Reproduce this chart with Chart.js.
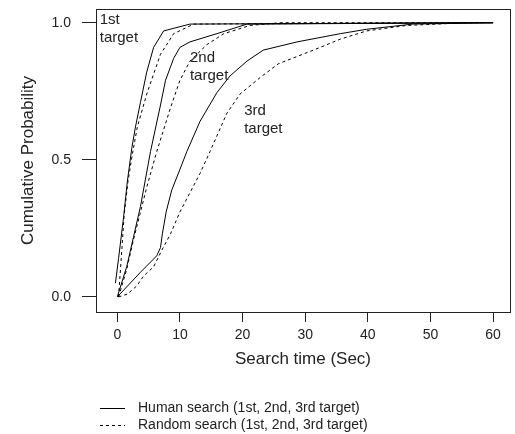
<!DOCTYPE html>
<html>
<head>
<meta charset="utf-8">
<script src="https://cdn.jsdelivr.net/npm/chart.js@4/dist/chart.umd.min.js"></script>
<style>
  html, body { margin: 0; padding: 0; background: #fff; }
  #wrap { width: 515px; height: 434px; }
</style>
</head>
<body>
<div id="wrap"><canvas id="cdf"></canvas></div>
<script>
// ---------------------------------------------------------------------------
// DATA (search time in sec, cumulative probability)
// ---------------------------------------------------------------------------
const human1T  = [-0.3, 0.2, 1.0, 1.6, 2.3, 2.9, 3.7, 4.7, 5.8, 7.4, 11.6, 60];
const human1P  = [0.05, 0.14, 0.29, 0.42, 0.54, 0.62, 0.71, 0.82, 0.91, 0.97, 0.995, 1.0];
const random1T = [0.2, 0.6, 1.1, 1.7, 2.4, 3.2, 4.7, 6.9, 9.0, 12.2, 60];
const random1P = [0.0, 0.13, 0.30, 0.42, 0.52, 0.62, 0.74, 0.885, 0.96, 0.995, 1.0];

const human2T  = [0, 1.5, 2.6, 3.7, 5.3, 6.9, 7.7, 9.0, 10.0, 11.6, 15.9, 20.7, 60];
const human2P  = [0.0, 0.11, 0.22, 0.33, 0.53, 0.70, 0.79, 0.87, 0.91, 0.93, 0.96, 0.995, 1.0];
const random2T = [0.2, 1.5, 2.6, 3.6, 4.7, 6.3, 8.5, 10.0, 11.6, 14.3, 17.0, 21.2, 26.0, 60];
const random2P = [0.0, 0.10, 0.21, 0.30, 0.40, 0.53, 0.69, 0.79, 0.86, 0.92, 0.96, 0.99, 1.0, 1.0];

const human3T  = [0, 3.7, 5.0, 6.3, 6.9, 7.2, 7.8, 8.7, 10.0, 11.1, 13.2, 15.9, 18.0, 20.7, 23.3, 28.7, 35.6, 39.8, 47.2, 60];
const human3P  = [0.0, 0.09, 0.12, 0.15, 0.18, 0.23, 0.31, 0.39, 0.465, 0.53, 0.64, 0.745, 0.806, 0.86, 0.90, 0.93, 0.96, 0.976, 0.995, 1.0];
const random3T = [0.2, 1.6, 3.1, 4.2, 5.8, 7.1, 8.5, 10.0, 11.6, 13.2, 14.8, 17.5, 19.6, 22.8, 25.7, 31.3, 35.6, 39.8, 46.2, 55.8, 60];
const random3P = [0.0, 0.01, 0.04, 0.076, 0.11, 0.17, 0.23, 0.31, 0.38, 0.45, 0.53, 0.67, 0.74, 0.80, 0.85, 0.90, 0.94, 0.97, 0.99, 1.0, 1.0];

const xTicks = [0, 10, 20, 30, 40, 50, 60];
const yTicks = [0.0, 0.5, 1.0];

// curve labels, anchored at (time, probability) of their top-left corner
const curveLabels = [
  { lines: ['1st', 'target'], x: -2.8, y: 1.038 },
  { lines: ['2nd', 'target'], x: 11.6, y: 0.90 },
  { lines: ['3rd', 'target'], x: 20.25, y: 0.706 },
];

const legendItems = [
  { text: 'Human search (1st, 2nd, 3rd target)', dash: [] },
  { text: 'Random search (1st, 2nd, 3rd target)', dash: [3, 3] },
];

// -----------------------------------------------------------------------------
// HELPERS
// -----------------------------------------------------------------------------
const FONT = '"Liberation Sans", Arial, sans-serif';
const INK = '#222';

function pts(t, p) {
  return t.map((x, i) => ({ x, y: p[i] }));
}

function curve(label, t, p, dashed) {
  return {
    label,
    data: pts(t, p),
    showLine: true,
    borderColor: '#000',
    borderWidth: 1,
    borderDash: dashed ? [3, 3] : [],
    pointRadius: 0,
    tension: 0,
    fill: false,
  };
}

// box around plot + curve labels + legend
const decorations = {
  id: 'decorations',
  afterDraw(chart) {
    const { ctx, chartArea: a, scales } = chart;
    ctx.save();
    ctx.strokeStyle = INK;
    ctx.lineWidth = 1;
    ctx.strokeRect(Math.round(a.left) + 0.5, Math.round(a.top) + 0.5,
                   Math.round(a.right - a.left), Math.round(a.bottom - a.top));

    ctx.fillStyle = INK;
    ctx.font = '15px ' + FONT;
    ctx.textBaseline = 'top';
    ctx.textAlign = 'left';
    curveLabels.forEach(l => {
      const px = scales.x.getPixelForValue(l.x);
      const py = scales.y.getPixelForValue(l.y);
      l.lines.forEach((s, i) => ctx.fillText(s, px, py + i * 18));
    });

    // legend (below the axis title)
    ctx.font = '14px ' + FONT;
    ctx.textBaseline = 'middle';
    legendItems.forEach((item, i) => {
      const y = 408 + i * 17;
      ctx.beginPath();
      ctx.setLineDash(item.dash);
      ctx.moveTo(100, y + 0.5);
      ctx.lineTo(125, y + 0.5);
      ctx.strokeStyle = '#000';
      ctx.stroke();
      ctx.setLineDash([]);
      ctx.fillText(item.text, 138, y);
    });
    ctx.restore();
  }
};

// -----------------------------------------------------------------------------
// CHART
// -----------------------------------------------------------------------------
new Chart(document.getElementById('cdf'), {
  type: 'scatter',
  data: {
    datasets: [
      curve('Human 1st', human1T, human1P, false),
      curve('Random 1st', random1T, random1P, true),
      curve('Human 2nd', human2T, human2P, false),
      curve('Random 2nd', random2T, random2P, true),
      curve('Human 3rd', human3T, human3P, false),
      curve('Random 3rd', random3T, random3P, true),
    ]
  },
  options: {
    responsive: true,
    maintainAspectRatio: false,
    animation: false,
    layout: { padding: { left: 0, right: 5, top: 9, bottom: 64 } },
    plugins: { legend: { display: false }, tooltip: { enabled: false } },
    scales: {
      x: {
        type: 'linear',
        min: -3.4,
        max: 62.7,
        afterBuildTicks: s => { s.ticks = xTicks.map(v => ({ value: v })); },
        afterFit: s => { s.height = 58; s.paddingLeft = 0; s.paddingRight = 0; },
        ticks: { color: INK, font: { family: FONT, size: 14 }, padding: 5, maxRotation: 0 },
        grid: { drawOnChartArea: false, drawTicks: true, tickLength: 10, color: INK },
        border: { color: INK },
        title: {
          display: true, text: 'Search time (Sec)', color: INK,
          font: { family: FONT, size: 17 }, padding: { top: 2, bottom: 0 }
        }
      },
      y: {
        type: 'linear',
        min: -0.055,
        max: 1.05,
        afterBuildTicks: s => { s.ticks = yTicks.map(v => ({ value: v })); },
        afterFit: s => { s.width = 96; s.paddingTop = 0; s.paddingBottom = 0; },
        ticks: {
          color: INK, font: { family: FONT, size: 14 }, padding: 11,
          callback: v => v.toFixed(1)
        },
        grid: { drawOnChartArea: false, drawTicks: true, tickLength: 14, color: INK },
        border: { color: INK },
        title: {
          display: true, text: 'Cumulative Probability', color: INK,
          font: { family: FONT, size: 17 }, padding: { top: 18, bottom: 0 }
        }
      }
    }
  },
  plugins: [decorations]
});
</script>
</body>
</html>
